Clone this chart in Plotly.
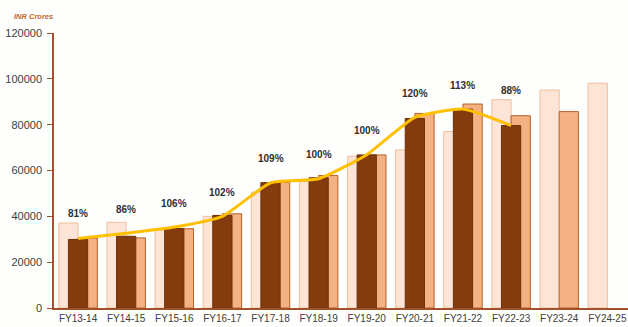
import plotly.graph_objects as go

categories = ["FY13-14", "FY14-15", "FY15-16", "FY16-17", "FY17-18", "FY18-19",
              "FY19-20", "FY20-21", "FY21-22", "FY22-23", "FY23-24", "FY24-25"]
series_light = [37100, 37400, 33900, 40000, 50600, 55200, 66200, 69000, 77000, 90900, 95100, 98100]
series_dark = [29900, 31300, 34600, 40400, 54700, 56800, 66800, 82700, 86800, 79600, None, None]
series_medium = [30500, 30600, 34600, 41100, 54800, 57800, 66800, 84900, 89000, 83900, 85700, None]
line_values = [30300, 32600, 35300, 40000, 54600, 56400, 66900, 83200, 86800, 79600]
pct_labels = ["81%", "86%", "106%", "102%", "109%", "100%", "100%", "120%", "113%", "88%"]

BAR_W = 0.4
fig = go.Figure()
fig.add_trace(go.Bar(x=categories, y=series_light, width=BAR_W, offset=-0.4,
                     marker=dict(color="#FCE4D6", line=dict(color="#F0BF9E", width=1)),
                     showlegend=False))
fig.add_trace(go.Bar(x=categories, y=series_medium, width=BAR_W, offset=0.0,
                     marker=dict(color="#F4B183", line=dict(color="#B5622A", width=1)),
                     showlegend=False))
fig.add_trace(go.Bar(x=categories, y=series_dark, width=BAR_W, offset=-0.2,
                     marker=dict(color="#843C0C", line=dict(color="#6E300A", width=1)),
                     showlegend=False))
fig.add_trace(go.Scatter(x=categories[:len(line_values)], y=line_values, mode="lines",
                         line=dict(color="#FFC000", width=3, shape="spline", smoothing=0.5),
                         showlegend=False))

# percentage labels sit above both the line and the bars of their category
for i, (cat, val, txt) in enumerate(zip(categories, line_values, pct_labels)):
    bars = [v for v in (series_light[i], series_dark[i], series_medium[i]) if v is not None]
    anchor = max(val + 10500, max(bars) + 4000)
    fig.add_annotation(x=cat, y=anchor, text=f"<b>{txt}</b>", showarrow=False,
                       font=dict(family="Liberation Sans", size=10, color="#303030"))

fig.add_annotation(xref="paper", yref="paper", x=-0.073, y=1.085, xanchor="left",
                   text="<b><i>INR Crores</i></b>", showarrow=False,
                   font=dict(family="Liberation Sans", size=7.5, color="#C0672A"))

fig.update_layout(
    width=628, height=327,
    margin=dict(l=54, r=0, t=33, b=19),
    paper_bgcolor="#FEFEFC", plot_bgcolor="#FEFEFC",
    barmode="overlay",
    xaxis=dict(type="category", range=[-0.5, 11.43], showgrid=False,
               showline=True, linecolor="#A0522D", linewidth=1.5,
               ticks="", tickfont=dict(family="Liberation Sans", size=10, color="#404040")),
    yaxis=dict(range=[0, 120000], tickvals=[0, 20000, 40000, 60000, 80000, 100000, 120000],
               ticktext=["0", "20000", "40000", "60000", "80000", "100000", "120000"],
               showgrid=False, zeroline=False, showline=True, linecolor="#A0522D",
               linewidth=1.5, ticks="outside", ticklen=5, tickcolor="#A0522D",
               ticklabelstandoff=3,
               tickfont=dict(family="Liberation Sans", size=11, color="#404040")),
)

fig.write_html("out.html")
